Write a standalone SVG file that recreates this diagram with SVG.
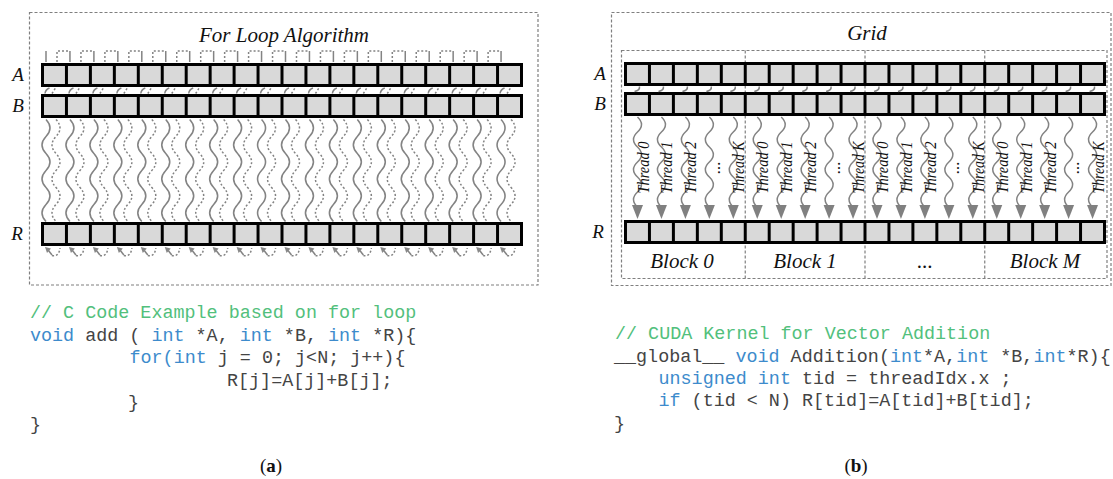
<svg xmlns="http://www.w3.org/2000/svg" xmlns:xlink="http://www.w3.org/1999/xlink" width="1113" height="479" viewBox="0 0 1113 479">
<style>
.frame{fill:none;stroke:#7f7f7f;stroke-width:1.2;stroke-dasharray:3 2}
.lbl{font-family:"Liberation Serif","Times New Roman",serif;font-style:italic;font-size:19px;fill:#111;text-anchor:middle}
.ttl{font-family:"Liberation Serif","Times New Roman",serif;font-style:italic;font-size:21px;fill:#111;text-anchor:middle}
.thr{font-family:"Liberation Serif","Times New Roman",serif;font-style:italic;font-size:17px;fill:#111;text-anchor:middle}
.code{font-family:"Liberation Mono","Courier New",monospace;font-size:18.4px;fill:#444;white-space:pre}
.cm{fill:#52c07c}
.kw{fill:#3d8bcc}
.wv{fill:none;stroke:#838383;stroke-width:1.5}
.dt{fill:none;stroke:#838383;stroke-width:1.5;stroke-dasharray:2 2}
.cap{font-family:"Liberation Serif","Times New Roman",serif;font-size:19px;fill:#111;text-anchor:middle}
</style>
<defs>
<pattern id="cellpat" patternUnits="userSpaceOnUse" x="0" y="0" width="23.95" height="24"><rect x="3" y="3" width="20.95" height="18" fill="#d9d9d9"/></pattern>
<g id="row"><rect width="482" height="24" fill="#000"/><rect width="482" height="24" fill="url(#cellpat)"/></g>
<g id="lcol">
<path class="wv" d="M5,51 V62"/>
<path class="wv" d="M4,93.5 Q4.5,89.5 8.5,88"/>
<path class="dt" d="M11,93.5 L14.5,88" stroke-dasharray="1.5 1.5"/>
<path class="wv" d="M5,119.5 q8,8.5 0,17 t0,17 t0,17 t0,17 t0,17 t0,17"/>
<path class="dt" d="M15,119.5 q8,8.5 0,17 t0,17 t0,17 t0,17 t0,17 t0,17"/>
<polygon points="4,247 10,248.5 6,253" fill="#888"/>
<path class="wv" d="M7.5,250.5 L11,255"/>
<path class="dt" d="M11,255.5 Q18,257 19,248"/>
</g>
<path id="lbr" class="dt" d="M16,62 V51 H28.95"/>
<g id="rcol">
<path class="wv" d="M2,86.5 Q2.5,90.5 -3,91.5"/>
<path class="wv" d="M0,117 q8,7.5 0,15 t0,15 t0,15 t0,15 t0,15 t0,15"/>
<polygon points="-5.5,205 5.5,205 0,219" fill="#808080"/>
</g>
</defs>

<g id="panel-a">
<rect class="frame" x="29.5" y="12.5" width="508.5" height="272.5"/>
<text class="ttl" x="284" y="42">For Loop Algorithm</text>
<g id="a-row-A"><text class="lbl" x="18" y="81">A</text><use href="#row" x="41" y="63"/></g>
<g id="a-row-B"><text class="lbl" x="18" y="112">B</text><use href="#row" x="41" y="94"/></g>
<g id="a-row-R"><text class="lbl" x="17" y="240">R</text><use href="#row" x="41" y="222"/></g>
</g>

<g id="panel-b">
<rect class="frame" x="611.5" y="12.5" width="499.5" height="273"/>
<text class="ttl" x="867" y="40">Grid</text>
<rect class="frame" x="621.5" y="50.5" width="485.5" height="228"/>
<path class="frame" d="M745.25,50.5 V278.5 M865,50.5 V278.5 M984.75,50.5 V278.5"/>
<g id="b-row-A"><text class="lbl" x="600" y="80">A</text><use href="#row" x="624" y="62"/></g>
<g id="b-row-B"><text class="lbl" x="600" y="110">B</text><use href="#row" x="624" y="92"/></g>
<g id="b-row-R"><text class="lbl" x="598" y="238">R</text><use href="#row" x="624" y="220"/></g>
<g id="blocks">
<text class="ttl" x="682" y="268">Block 0</text>
<text class="ttl" x="805" y="268">Block 1</text>
<text class="ttl" x="925" y="268">...</text>
<text class="ttl" x="1045" y="268">Block M</text>
</g>
</g>

<g id="connectors">
<g id="loop-connectors">
<use href="#lcol" x="41"/><use href="#lcol" x="64.95"/><use href="#lcol" x="88.9"/><use href="#lcol" x="112.85"/><use href="#lcol" x="136.8"/>
<use href="#lcol" x="160.75"/><use href="#lcol" x="184.7"/><use href="#lcol" x="208.65"/><use href="#lcol" x="232.6"/><use href="#lcol" x="256.55"/>
<use href="#lcol" x="280.5"/><use href="#lcol" x="304.45"/><use href="#lcol" x="328.4"/><use href="#lcol" x="352.35"/><use href="#lcol" x="376.3"/>
<use href="#lcol" x="400.25"/><use href="#lcol" x="424.2"/><use href="#lcol" x="448.15"/><use href="#lcol" x="472.1"/><use href="#lcol" x="496.05"/>
<use href="#lbr" x="41"/><use href="#lbr" x="64.95"/><use href="#lbr" x="88.9"/><use href="#lbr" x="112.85"/><use href="#lbr" x="136.8"/>
<use href="#lbr" x="160.75"/><use href="#lbr" x="184.7"/><use href="#lbr" x="208.65"/><use href="#lbr" x="232.6"/><use href="#lbr" x="256.55"/>
<use href="#lbr" x="280.5"/><use href="#lbr" x="304.45"/><use href="#lbr" x="328.4"/><use href="#lbr" x="352.35"/><use href="#lbr" x="376.3"/>
<use href="#lbr" x="400.25"/><use href="#lbr" x="424.2"/><use href="#lbr" x="448.15"/><use href="#lbr" x="472.1"/>
</g>
<g id="thread-connectors">
<use href="#rcol" x="637.5"/><use href="#rcol" x="661.45"/><use href="#rcol" x="685.4"/><use href="#rcol" x="709.35"/><use href="#rcol" x="733.3"/>
<use href="#rcol" x="757.25"/><use href="#rcol" x="781.2"/><use href="#rcol" x="805.15"/><use href="#rcol" x="829.1"/><use href="#rcol" x="853.05"/>
<use href="#rcol" x="877"/><use href="#rcol" x="900.95"/><use href="#rcol" x="924.9"/><use href="#rcol" x="948.85"/><use href="#rcol" x="972.8"/>
<use href="#rcol" x="996.75"/><use href="#rcol" x="1020.7"/><use href="#rcol" x="1044.65"/><use href="#rcol" x="1068.6"/><use href="#rcol" x="1092.55"/>
</g>
</g>

<g id="thread-labels">
<text class="thr" transform="translate(648.5,167.5) rotate(-90)" textLength="52" lengthAdjust="spacingAndGlyphs">Thread 0</text>
<text class="thr" transform="translate(672.45,167.5) rotate(-90)" textLength="52" lengthAdjust="spacingAndGlyphs">Thread 1</text>
<text class="thr" transform="translate(696.4,167.5) rotate(-90)" textLength="52" lengthAdjust="spacingAndGlyphs">Thread 2</text>
<text class="thr" transform="translate(719.85,167.5) rotate(-90)">...</text>
<text class="thr" transform="translate(744.3,167.5) rotate(-90)" textLength="52" lengthAdjust="spacingAndGlyphs">Thread K</text>
<text class="thr" transform="translate(768.25,167.5) rotate(-90)" textLength="52" lengthAdjust="spacingAndGlyphs">Thread 0</text>
<text class="thr" transform="translate(792.2,167.5) rotate(-90)" textLength="52" lengthAdjust="spacingAndGlyphs">Thread 1</text>
<text class="thr" transform="translate(816.15,167.5) rotate(-90)" textLength="52" lengthAdjust="spacingAndGlyphs">Thread 2</text>
<text class="thr" transform="translate(839.6,167.5) rotate(-90)">...</text>
<text class="thr" transform="translate(864.05,167.5) rotate(-90)" textLength="52" lengthAdjust="spacingAndGlyphs">Thread K</text>
<text class="thr" transform="translate(888,167.5) rotate(-90)" textLength="52" lengthAdjust="spacingAndGlyphs">Thread 0</text>
<text class="thr" transform="translate(911.95,167.5) rotate(-90)" textLength="52" lengthAdjust="spacingAndGlyphs">Thread 1</text>
<text class="thr" transform="translate(935.9,167.5) rotate(-90)" textLength="52" lengthAdjust="spacingAndGlyphs">Thread 2</text>
<text class="thr" transform="translate(959.35,167.5) rotate(-90)">...</text>
<text class="thr" transform="translate(983.8,167.5) rotate(-90)" textLength="52" lengthAdjust="spacingAndGlyphs">Thread K</text>
<text class="thr" transform="translate(1007.75,167.5) rotate(-90)" textLength="52" lengthAdjust="spacingAndGlyphs">Thread 0</text>
<text class="thr" transform="translate(1031.7,167.5) rotate(-90)" textLength="52" lengthAdjust="spacingAndGlyphs">Thread 1</text>
<text class="thr" transform="translate(1055.65,167.5) rotate(-90)" textLength="52" lengthAdjust="spacingAndGlyphs">Thread 2</text>
<text class="thr" transform="translate(1079.1,167.5) rotate(-90)">...</text>
<text class="thr" transform="translate(1103.55,167.5) rotate(-90)" textLength="52" lengthAdjust="spacingAndGlyphs">Thread K</text>
</g>

<g id="code-a">
<text class="code cm" x="30" y="318">// C Code Example based on for loop</text>
<text class="code" x="30" y="340.5"><tspan class="kw">void</tspan> add ( <tspan class="kw">int</tspan> *A, <tspan class="kw">int</tspan> *B, <tspan class="kw">int</tspan> *R){</text>
<text class="code" x="129.5" y="363"><tspan class="kw">for(int</tspan> j = 0; j&lt;N; j++){</text>
<text class="code" x="227" y="385.5">R[j]=A[j]+B[j];</text>
<text class="code" x="128" y="408">}</text>
<text class="code" x="30" y="430">}</text>
</g>

<g id="code-b">
<text class="code cm" x="615" y="339">// CUDA Kernel for Vector Addition</text>
<text class="code" x="614" y="361.5">__global__ <tspan class="kw">void</tspan> Addition(<tspan class="kw">int</tspan>*A,<tspan class="kw">int</tspan> *B,<tspan class="kw">int</tspan>*R){</text>
<text class="code" x="658.5" y="384"><tspan class="kw">unsigned int</tspan> tid = threadIdx.x ;</text>
<text class="code" x="658.5" y="406"><tspan class="kw">if</tspan> (tid &lt; N) R[tid]=A[tid]+B[tid];</text>
<text class="code" x="614" y="428.5">}</text>
</g>

<g id="captions">
<text class="cap" x="271" y="472">(<tspan font-weight="bold">a</tspan>)</text>
<text class="cap" x="856" y="472">(<tspan font-weight="bold">b</tspan>)</text>
</g>
</svg>
